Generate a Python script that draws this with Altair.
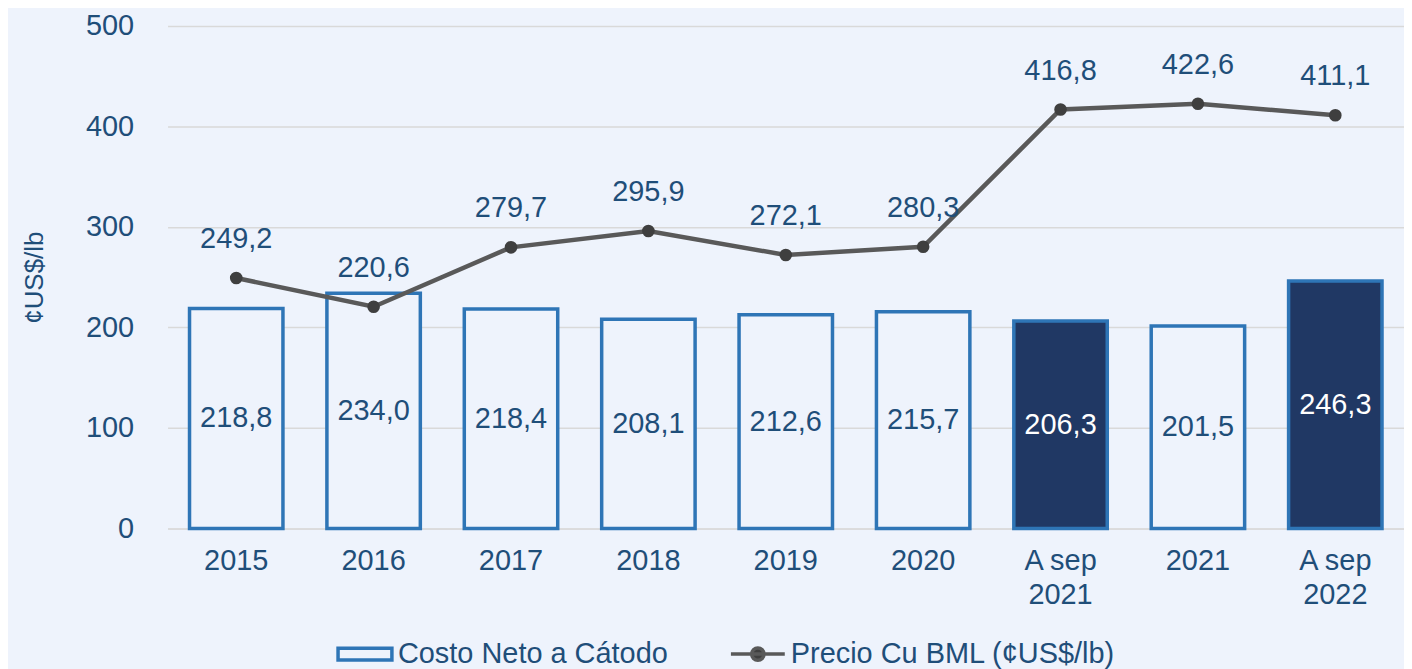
import altair as alt
import pandas as pd

categorias = ["2015", "2016", "2017", "2018", "2019", "2020", "A sep 2021", "2021", "A sep 2022"]
costo_neto = [218.8, 234.0, 218.4, 208.1, 212.6, 215.7, 206.3, 201.5, 246.3]
precio_cu = [249.2, 220.6, 279.7, 295.9, 272.1, 280.3, 416.8, 422.6, 411.1]
destacado = [False, False, False, False, False, False, True, False, True]
series = ["Costo Neto a Cátodo", "Precio Cu BML (¢US$/lb)"]

BG = "#EEF3FC"
TXT = "#1F4E79"
BLUE = "#2E75B6"
NAVY = "#203864"
GRAY = "#595959"
FONT = "Liberation Sans"

df = pd.DataFrame({
    "cat": categorias,
    "costo": costo_neto,
    "precio": precio_cu,
    "destacado": destacado,
})
df["costo_lbl"] = [f"{v:.1f}".replace(".", ",") for v in df["costo"]]
df["precio_lbl"] = [f"{v:.1f}".replace(".", ",") for v in df["precio"]]
df["mitad"] = df["costo"] / 2

leg_df = pd.DataFrame({"serie": series, "cat": [categorias[0]] * 2, "v": [0, 0]})

xenc = alt.X(
    "cat:N", sort=categorias,
    scale=alt.Scale(paddingInner=0.32, paddingOuter=0.16),
    axis=alt.Axis(
        title=None, labelAngle=0, ticks=False, domainColor="#D9D9D9", domainWidth=1,
        labelFontSize=29, labelColor=TXT, labelFont=FONT, labelPadding=18,
        labelLineHeight=34,
        labelExpr="test(/^A sep/, datum.label) ? ['A sep', substring(datum.label, 6)] : datum.label",
    ),
)
yscale = alt.Scale(domain=[0, 500], nice=False)
yaxis = alt.Axis(
    values=[0, 100, 200, 300, 400, 500], title="¢US$/lb", titleFontSize=26,
    titleFont=FONT, titleFontWeight="normal", titleColor=TXT, titlePadding=38,
    labelFontSize=29, labelColor=TXT, labelFont=FONT, labelPadding=34,
    ticks=False, domain=False, gridColor="#D9D9D9", gridWidth=1.5,
)

base = alt.Chart(df)

bars = base.mark_bar(stroke=BLUE, strokeWidth=3.5).encode(
    x=xenc,
    y=alt.Y("costo:Q", scale=yscale, axis=yaxis),
    fill=alt.condition(alt.datum.destacado, alt.value(NAVY), alt.value(BG)),
)

bar_text = base.mark_text(fontSize=29, font=FONT, baseline="middle").encode(
    x=alt.X("cat:N", sort=categorias),
    y=alt.Y("mitad:Q", scale=yscale),
    text="costo_lbl:N",
    color=alt.condition(alt.datum.destacado, alt.value("white"), alt.value(TXT)),
)

line = base.mark_line(color=GRAY, strokeWidth=4.5).encode(
    x=alt.X("cat:N", sort=categorias),
    y=alt.Y("precio:Q", scale=yscale),
)
points = base.mark_circle(size=160, color="#3F3F3F", opacity=1).encode(
    x=alt.X("cat:N", sort=categorias),
    y=alt.Y("precio:Q", scale=yscale),
)
line_text = base.mark_text(fontSize=29, font=FONT, dy=-39, color=TXT, baseline="middle").encode(
    x=alt.X("cat:N", sort=categorias),
    y=alt.Y("precio:Q", scale=yscale),
    text="precio_lbl:N",
)

rect_path = "M-1,-0.22L1,-0.22L1,0.22L-1,0.22Z"
line_path = "M-1,0L1,0M-0.23,0A0.23,0.23,0,1,1,0.23,0A0.23,0.23,0,1,1,-0.23,0Z"

legend_layer = alt.Chart(leg_df).mark_point(opacity=0, filled=False).encode(
    x=alt.X("cat:N", sort=categorias),
    y=alt.Y("v:Q", scale=yscale),
    shape=alt.Shape("serie:N", scale=alt.Scale(domain=series, range=[rect_path, line_path]),
                    legend=alt.Legend(
                        title=None, orient="none", direction="horizontal",
                        legendX=169, legendY=601,
                        symbolSize=2916, symbolStrokeWidth=3.5, symbolOpacity=1,
                        labelFontSize=29, labelFont=FONT, labelColor=TXT, labelLimit=0,
                        labelOffset=4, columnPadding=56,
                    )),
    stroke=alt.Stroke("serie:N", scale=alt.Scale(domain=series, range=[BLUE, GRAY])),
    fill=alt.Fill("serie:N", scale=alt.Scale(domain=series, range=[BG, "#3F3F3F"])),
)

chart = alt.layer(bars, bar_text, line, points, line_text, legend_layer).properties(
    width=1240, height=504, background=BG,
    padding={"left": 13, "top": 3, "right": 0, "bottom": 0},
).configure_view(stroke=None)

chart.save("out.html", embed_options={"renderer": "svg", "actions": False})
